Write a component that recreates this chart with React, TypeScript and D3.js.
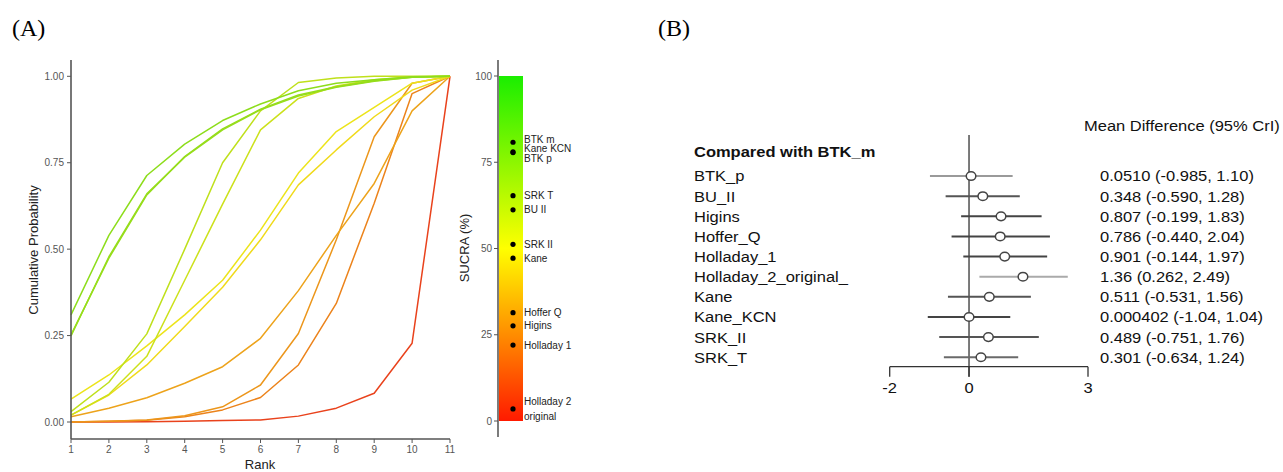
import React from "react";
import * as d3 from "d3";

// ---------- Panel A data ----------
const rankTicks = [1, 2, 3, 4, 5, 6, 7, 8, 9, 10, 11];
const probTicks = [0, 0.25, 0.5, 0.75, 1];
const sucraTicks = [0, 25, 50, 75, 100];

const treatNames = ["BTK m", "Kane KCN", "BTK p", "SRK T", "BU II", "SRK II", "Kane", "Hoffer Q", "Higins", "Holladay 1", "Holladay 2 original"];
const sucraValues = [80.8, 78.0, 77.8, 65.3, 61.2, 51.2, 47.2, 31.4, 27.6, 22.0, 3.5];

const cumBTKm = [0.31, 0.54, 0.713, 0.804, 0.872, 0.92, 0.958, 0.98, 0.99, 0.999, 1];
const cumKaneKCN = [0.249, 0.478, 0.66, 0.766, 0.845, 0.903, 0.943, 0.968, 0.986, 0.997, 1];
const cumBTKp = [0.252, 0.474, 0.657, 0.768, 0.848, 0.905, 0.946, 0.97, 0.987, 0.997, 1];
const cumSRKT = [0.03, 0.115, 0.255, 0.5, 0.75, 0.9, 0.982, 0.995, 1, 1, 1];
const cumBUII = [0.02, 0.08, 0.19, 0.41, 0.63, 0.845, 0.936, 0.972, 0.99, 0.998, 1];
const cumSRKII = [0.066, 0.136, 0.22, 0.31, 0.41, 0.555, 0.72, 0.84, 0.91, 0.98, 1];
const cumKane = [0.02, 0.078, 0.165, 0.276, 0.39, 0.527, 0.686, 0.787, 0.883, 0.96, 1];
const cumHofferQ = [0.015, 0.04, 0.07, 0.112, 0.16, 0.242, 0.38, 0.54, 0.69, 0.9, 1];
const cumHigins = [0, 0.002, 0.006, 0.018, 0.044, 0.107, 0.256, 0.527, 0.825, 0.98, 1];
const cumHolladay1 = [0, 0.002, 0.005, 0.015, 0.035, 0.071, 0.165, 0.343, 0.633, 0.95, 1];
const cumHolladay2 = [0, 0, 0.001, 0.002, 0.004, 0.006, 0.017, 0.04, 0.083, 0.228, 1];

const cumSeries = [cumBTKm, cumKaneKCN, cumBTKp, cumSRKT, cumBUII, cumSRKII, cumKane, cumHofferQ, cumHigins, cumHolladay1, cumHolladay2];

// ---------- Panel B data ----------
const forestLabels = ["BTK_p", "BU_II", "Higins", "Hoffer_Q", "Holladay_1", "Holladay_2_original_", "Kane", "Kane_KCN", "SRK_II", "SRK_T"];
const forestMean = [0.051, 0.348, 0.807, 0.786, 0.901, 1.36, 0.511, 0.000402, 0.489, 0.301];
const forestLower = [-0.985, -0.59, -0.199, -0.44, -0.144, 0.262, -0.531, -1.04, -0.751, -0.634];
const forestUpper = [1.1, 1.28, 1.83, 2.04, 1.97, 2.49, 1.56, 1.04, 1.76, 1.24];
const forestLineShade = ["#9a9a9a", "#555", "#444", "#444", "#444", "#aaa", "#555", "#444", "#555", "#6a6a6a"];
const forestTicks = [-2, 0, 3];

const sansFont = "'Liberation Sans', Arial, Helvetica, sans-serif";

function wrapLabel(s: string): string[] {
  if (s.length <= 12) return [s];
  const i = s.lastIndexOf(" ");
  return [s.slice(0, i), s.slice(i + 1)];
}

function repel(targets: number[], gap: number): number[] {
  const idx = targets.map((_, i) => i).sort((a, b) => targets[a] - targets[b]);
  const pos = targets.slice();
  for (let it = 0; it < 200; it++) {
    for (let k = 1; k < idx.length; k++) {
      const a = idx[k - 1], b = idx[k];
      const d = pos[b] - pos[a];
      if (d < gap) {
        const push = (gap - d) / 2;
        pos[a] -= push;
        pos[b] += push;
      }
    }
  }
  return pos;
}

// text horizontally stretched like the reference figure
function SText(props: { x: number; y: number; anchor?: string; bold?: boolean; children: React.ReactNode; dy?: string }) {
  return (
    <text
      transform={`translate(${props.x},${props.y}) scale(1.1,1)`}
      textAnchor={props.anchor || "start"}
      fontWeight={props.bold ? "bold" : "normal"}
      dy={props.dy}
    >
      {props.children}
    </text>
  );
}

export default function App() {
  // Panel A scales
  const x = d3.scaleLinear().domain([1, 11]).range([71, 450]);
  const y = d3.scaleLinear().domain([0, 1]).range([422, 76.3]);
  const ys = d3.scaleLinear().domain([0, 100]).range([421, 76]);
  const lineColor = d3.scaleLinear<string>().domain([0, 50, 100]).range(["#e8361c", "#f0e41a", "#4fd81c"]);
  const line = d3.line<number>().x((_, i) => x(rankTicks[i])).y((d) => y(d));

  const order = sucraValues.map((_, i) => i).sort((a, b) => sucraValues[a] - sucraValues[b]);
  const labelY = repel(sucraValues.map((v) => ys(v)), 9.5);

  // Panel B scales
  const fx = d3.scaleLinear().domain([-2, 3]).range([889.7, 1088]);
  const fy = d3.scaleBand().domain(forestLabels).range([166, 367.3]).paddingInner(0);
  const rowY = (l: string) => (fy(l) as number) + fy.bandwidth() / 2;
  const loc = d3.formatLocale({ decimal: ".", thousands: ",", grouping: [3], currency: ["", ""], minus: "-" });
  const f3 = loc.format(".3r");

  return (
    <svg width={1283} height={472} style={{ position: "absolute", left: 0, top: 0, background: "#fff" }}>
      <defs>
        <linearGradient id="sucraGrad" x1="0" y1="1" x2="0" y2="0">
          <stop offset="0%" stopColor="#ff1a00" />
          <stop offset="50%" stopColor="#ffff00" />
          <stop offset="100%" stopColor="#1aee00" />
        </linearGradient>
      </defs>

      {/* Panel titles */}
      <text x={12} y={36} fontFamily="'Liberation Serif', 'Times New Roman', serif" fontSize={24}>(A)</text>
      <text x={658} y={36} fontFamily="'Liberation Serif', 'Times New Roman', serif" fontSize={24}>(B)</text>

      {/* Panel A: cumulative rankogram */}
      <g fontFamily={sansFont}>
        {order.map((i) => (
          <path key={treatNames[i]} d={line(cumSeries[i]) as string} fill="none" stroke={lineColor(sucraValues[i])} strokeWidth={1.5} strokeLinejoin="round" />
        ))}
        <line x1={71} x2={71} y1={60} y2={439} stroke="#555" strokeWidth={1.6} />
        <line x1={71} x2={450} y1={439} y2={439} stroke="#555" strokeWidth={1.6} />
        {probTicks.map((t) => (
          <g key={t}>
            <line x1={67} x2={71} y1={y(t)} y2={y(t)} stroke="#555" />
            <text x={64} y={y(t)} dy="0.35em" textAnchor="end" fontSize={10} fill="#555">{d3.format(".2f")(t)}</text>
          </g>
        ))}
        {rankTicks.map((t) => (
          <g key={t}>
            <line x1={x(t)} x2={x(t)} y1={439} y2={443} stroke="#555" />
            <text x={x(t)} y={453} textAnchor="middle" fontSize={10} fill="#555">{t}</text>
          </g>
        ))}
        <text x={260} y={469} textAnchor="middle" fontSize={13} fill="#222">Rank</text>
        <text transform="translate(38,250) rotate(-90)" textAnchor="middle" fontSize={13} fill="#222">Cumulative Probability</text>

        {/* SUCRA bar */}
        <line x1={498} x2={498} y1={60} y2={437} stroke="#444" strokeWidth={1.4} />
        <rect x={499} y={ys(100)} width={24} height={ys(0) - ys(100)} fill="url(#sucraGrad)" />
        {sucraTicks.map((t) => (
          <g key={t}>
            <line x1={494} x2={498} y1={ys(t)} y2={ys(t)} stroke="#555" />
            <text x={492} y={ys(t)} dy="0.35em" textAnchor="end" fontSize={10} fill="#555">{t}</text>
          </g>
        ))}
        <text transform="translate(469,248) rotate(-90)" textAnchor="middle" fontSize={13} fill="#222">SUCRA (%)</text>
        {treatNames.map((n, i) => {
          const parts = wrapLabel(n);
          return (
            <g key={n}>
              <circle cx={513} cy={ys(sucraValues[i])} r={2.6} fill="#000" />
              {parts.map((p, k) => (
                <text key={p} x={524} y={labelY[i] + (k - (parts.length - 1) / 2) * 15} dy="0.35em" fontSize={10} fill="#222">{p}</text>
              ))}
            </g>
          );
        })}
      </g>

      {/* Panel B: forest plot */}
      <g fontFamily={sansFont} fontSize={15} fill="#111">
        <SText x={1084} y={131}>Mean Difference (95% CrI)</SText>
        <SText x={694} y={157} bold>Compared with BTK_m</SText>
        <line x1={fx(0)} x2={fx(0)} y1={135} y2={376.7} stroke="#333" strokeWidth={1.3} />
        <line x1={fx(-2)} x2={fx(3)} y1={366.7} y2={366.7} stroke="#333" strokeWidth={1.3} />
        {forestTicks.map((t) => (
          <g key={t}>
            <line x1={fx(t)} x2={fx(t)} y1={366.7} y2={376.7} stroke="#333" strokeWidth={1.3} />
            <SText x={fx(t)} y={393} anchor="middle">{t}</SText>
          </g>
        ))}
        {forestLabels.map((l, i) => (
          <g key={l}>
            <SText x={694} y={rowY(l)} dy="0.36em">{l}</SText>
            <line x1={fx(forestLower[i])} x2={fx(forestUpper[i])} y1={rowY(l)} y2={rowY(l)} stroke={forestLineShade[i]} strokeWidth={2} />
            <ellipse cx={fx(forestMean[i])} cy={rowY(l)} rx={4.8} ry={4.3} fill="#fff" stroke="#444" strokeWidth={1.5} />
            <SText x={1100} y={rowY(l)} dy="0.36em">{`${f3(forestMean[i])} (${f3(forestLower[i])}, ${f3(forestUpper[i])})`}</SText>
          </g>
        ))}
      </g>
    </svg>
  );
}
